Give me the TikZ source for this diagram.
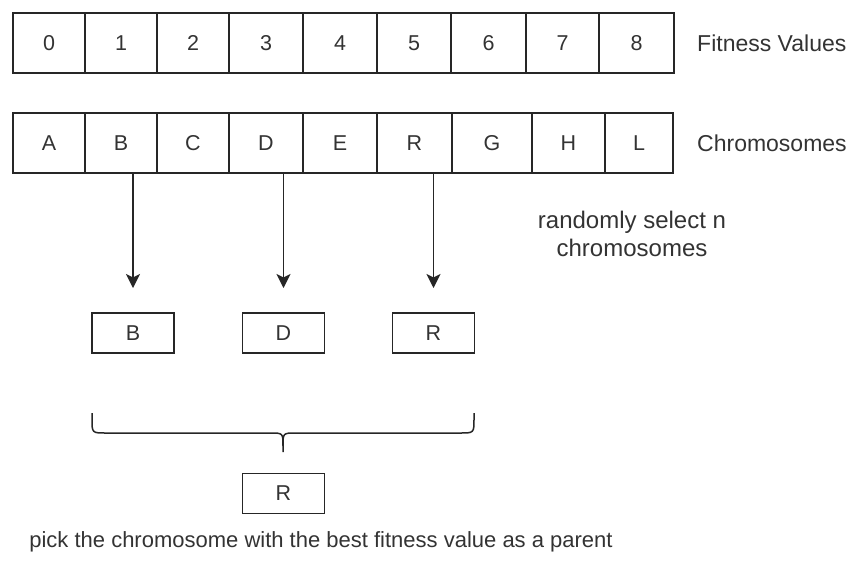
\documentclass[tikz,border=0pt]{standalone}
\usepackage{fontspec}
\setmainfont{Liberation Sans}
\usetikzlibrary{arrows.meta}
\definecolor{ink}{HTML}{262626}
\definecolor{txt}{HTML}{333333}
\tikzset{
  cell/.style={draw=ink, line width=1.5pt, inner sep=0pt, outer sep=0pt,
    minimum height=60pt, text=txt, font=\fontsize{21.5}{25}\selectfont},
  pickbox/.style={draw=ink, line width=1.5pt, inner sep=0pt, outer sep=0pt,
    minimum width=82pt, minimum height=40pt, text=txt, font=\fontsize{21.5}{25}\selectfont},
  rowlabel/.style={anchor=west, inner sep=0pt, text=txt, font=\fontsize{23}{27}\selectfont},
  note/.style={inner sep=0pt, text=txt, align=center},
  pickarrow/.style={draw=ink, line width=1.7pt,
    -{Stealth[length=14pt, width=14pt, inset=3.5pt]}},
  bracket/.style={draw=ink, line width=1.5pt, line join=round}
}
\begin{document}
\begin{tikzpicture}[x=1pt, y=-1pt]
  \useasboundingbox (0,0) rectangle (856,566);

  % fitness values row
  \foreach \l/\r/\t [count=\i] in {13/85/0, 85/157/1, 157/229/2, 229/303/3,
      303/377/4, 377/451/5, 451/526/6, 526/599/7, 599/674/8}
    \node[cell, minimum width={(\r-\l)*1pt}] (f\i) at ({(\l+\r)/2}, 43) {\t};

  % chromosome row
  \foreach \l/\r/\t [count=\i] in {13/85/A, 85/157/B, 157/229/C, 229/303/D,
      303/377/E, 377/452/R, 452/532/G, 532/605/H, 605/673/L}
    \node[cell, minimum width={(\r-\l)*1pt}] (c\i) at ({(\l+\r)/2}, 143) {\t};

  \node[rowlabel] (fitlbl) at (697, 43) {Fitness Values};
  \node[rowlabel] (chrlbl) at (697, 143) {Chromosomes};

  \node[note, font=\fontsize{24}{28}\selectfont] (rand) at (632, 234)
    {randomly select n\\chromosomes};

  % randomly selected chromosomes
  \node[pickbox] (selB) at (133, 333) {B};
  \node[pickbox] (selD) at (283.5, 333) {D};
  \node[pickbox] (selR) at (433.5, 333) {R};

  \foreach \b/\c in {selB/c2, selD/c4, selR/c6}
    \draw[pickarrow] (\c.south -| \b.north) -- ([yshift=25pt]\b.north);

  % bracket collecting the selected chromosomes
  \draw[bracket] (92,413) -- (92,419) .. controls (92,433) .. (106,433)
    -- (270,433) .. controls (283,433) .. (283,446) -- (283,452);
  \draw[bracket] (474,413) -- (474,419) .. controls (474,433) .. (460,433)
    -- (296,433) .. controls (283,433) .. (283,446);

  \node[pickbox] (best) at (283.5, 493.5) {R};

  \node[note, anchor=base, font=\fontsize{22}{26}\selectfont] (caption) at (321, 547)
    {pick the chromosome with the best fitness value as a parent};
\end{tikzpicture}
\end{document}
